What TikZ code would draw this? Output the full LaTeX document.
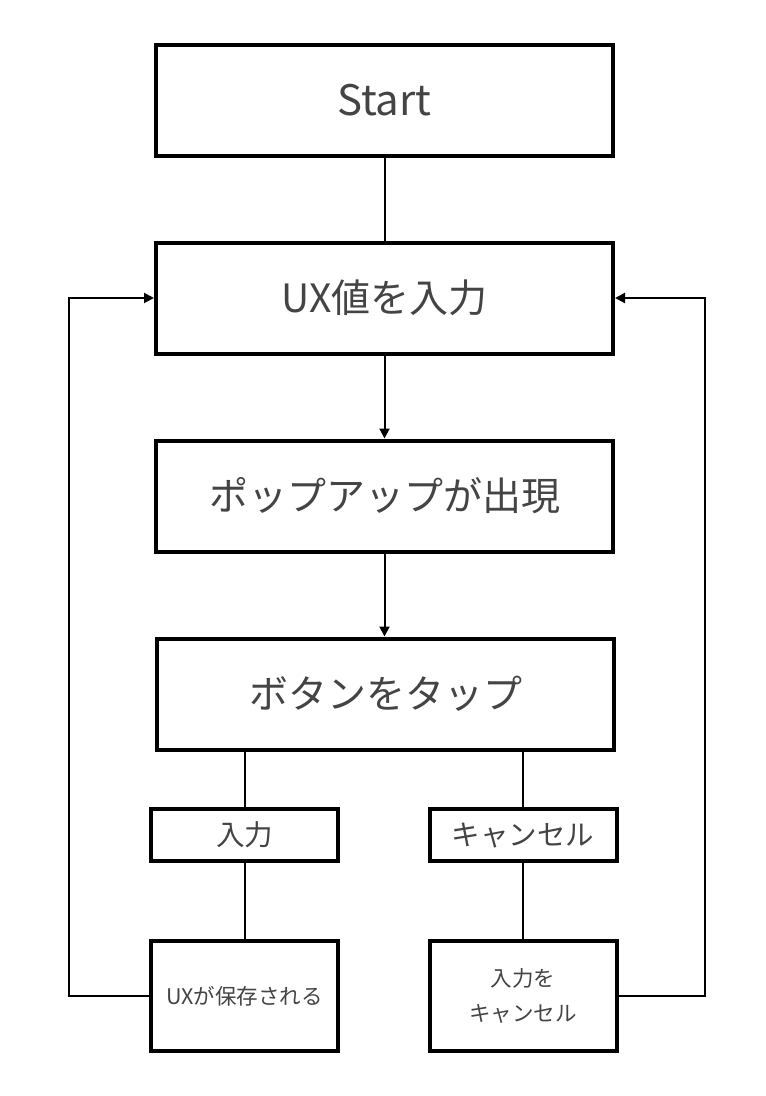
\documentclass[tikz,border=0pt]{standalone}
\usepackage{fontspec}
\setmainfont{Noto Sans CJK JP}
\newfontfamily\jp{Noto Sans CJK JP}
\usetikzlibrary{arrows.meta}
\definecolor{txt}{HTML}{444444}
\tikzset{
  box/.style={draw=black, line width=4pt, rectangle, fill=white, text=txt, font=\jp, align=center, inner sep=0pt},
  bigbox/.style={box, minimum width=457pt, minimum height=111pt, font=\jp\fontsize{39}{45}\selectfont},
  midbox/.style={box, minimum width=187pt, minimum height=52pt, font=\jp\fontsize{28.5}{32}\selectfont},
  lowbox/.style={box, minimum width=187pt, minimum height=110pt, font=\jp\fontsize{21.5}{35}\selectfont},
  conn/.style={draw=black, line width=2pt},
  arr/.style={conn, -{Triangle[length=10pt,width=10pt]}}
}
\begin{document}
\begin{tikzpicture}[x=1pt,y=-1pt]
\useasboundingbox (0,0) rectangle (766,1096);
\node[bigbox] (start) at (384.5,100.5) {\fontsize{42}{45}\selectfont Start};
\node[bigbox] (ux) at (384.5,298) {UX値を入力};
\node[bigbox] (pop) at (384.5,496) {ポップアップが出現};
\node[bigbox] (btn) at (385.5,694) {ボタンをタップ};
\node[midbox] (in) at (244.5,835) {入力};
\node[midbox] (cancel) at (523,835) {キャンセル};
\node[lowbox] (save) at (244.5,996) {UXが保存される};
\node[lowbox] (incancel) at (523,996) {入力を\\キャンセル};
\draw[conn] (start.south) -- (ux.north);
\draw[arr] (ux.south) -- (pop.north);
\draw[arr] (pop.south) -- (pop.south |- btn.north);
\draw[conn] (btn.south -| in.north) -- (in.north);
\draw[conn] (btn.south -| cancel.north) -- (cancel.north);
\draw[conn] (in.south) -- (save.north);
\draw[conn] (cancel.south) -- (incancel.north);
\draw[arr] (save.west) -- ++(-80,0) |- (ux.west);
\draw[arr] (incancel.east) -- ++(86,0) |- (ux.east);
\end{tikzpicture}
\end{document}
